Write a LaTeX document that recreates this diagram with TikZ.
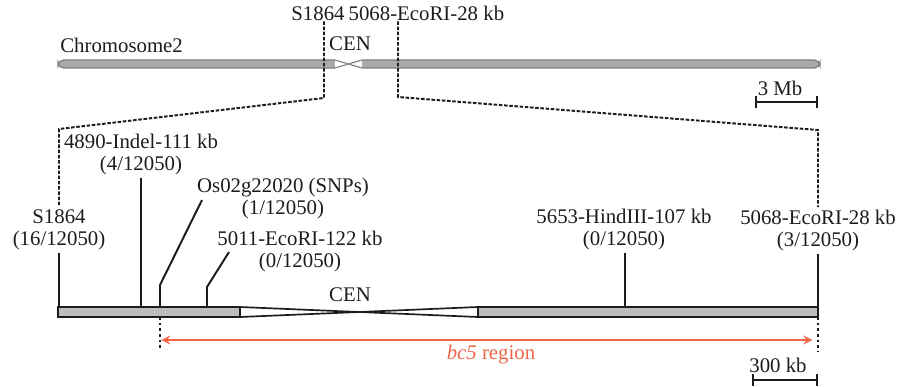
\documentclass[tikz,border=0pt]{standalone}
\usepackage{fontspec}
\setmainfont{Liberation Serif}
\usetikzlibrary{arrows, positioning}
\definecolor{bargray}{RGB}{190,190,190}
\definecolor{chrgray}{RGB}{170,170,170}
\definecolor{regred}{RGB}{242,100,72}
\definecolor{inkgray}{RGB}{28,28,28}

\begin{document}
\begin{tikzpicture}[
    x=0.025cm, y=-0.025cm,
    every node/.style={font=\fontsize{14.8}{15.6}\selectfont, text=inkgray},
    lbl/.style={align=center, inner sep=2pt, anchor=south},
    tick/.style={line width=1.4pt, draw=inkgray},
    bar/.style={draw=inkgray, line width=1.3pt, fill=bargray},
    zoomline/.style={draw=inkgray, line width=1.4pt, dash pattern=on 2.5pt off 1.2pt},
    dotline/.style={draw=inkgray, line width=1.4pt, dash pattern=on 2pt off 2pt},
    scalebar/.style={|-|, line width=1.3pt, draw=inkgray},
    arrow/.style={<->, >=stealth, line width=1.8pt, draw=regred}
]
\useasboundingbox (0,0) rectangle (899,387);

% Chromosome 2
\draw[fill=chrgray, draw=gray, line width=0.9pt, rounded corners=4] (58,60) rectangle (820,68);
\fill[white] (335,59.4) rectangle (362,68.6);
\draw[gray, line width=0.8pt] (335,60) -- (348.5,64) -- (362,60) (335,68) -- (348.5,64) -- (362,68);
\node[anchor=west, inner sep=0pt] (chr) at (60,45) {Chromosome2};
\node (cenT) at (350,44) {CEN};
\node[inner sep=0pt] (mS) at (318,14) {S1864};
\node[inner sep=0pt, anchor=base west, xshift=0.25em] (mE) at (mS.base east) {5068-EcoRI-28 kb};

% Scale bar 3 Mb
\coordinate (mbL) at (755,102);
\coordinate (mbR) at (818,102);
\draw[scalebar] (mbL) -- (mbR);
\node (mbT) at (780,88) {3 Mb};

% Markers on the fine map
\node[lbl] (lS) at (59,253) {S1864\\(16/12050)};
\node[lbl] (lI) at (141,178) {4890-Indel-111 kb\\(4/12050)};
\node[lbl] (lO) at (283,222) {Os02g22020 (SNPs)\\(1/12050)};
\node[lbl] (lR) at (300,275) {5011-EcoRI-122 kb\\(0/12050)};
\node[lbl] (lH) at (624,253) {5653-HindIII-107 kb\\(0/12050)};
\node[lbl] (lE) at (818,254) {5068-EcoRI-28 kb\\(3/12050)};

% Zoom lines
\coordinate (zL) at (324,98);
\coordinate (zLb) at (59,129);
\coordinate (zR) at (398,97);
\coordinate (zRb) at (818,130);
\draw[zoomline] (mS.south -| zL) -- (zL) -- (zLb) -- (lS.north);
\draw[zoomline] (mE.south -| zR) -- (zR) -- (zRb) -- (lE.north);

% Fine map bar
\draw[bar] (58,307) rectangle (240,317);
\draw[bar] (478,307) rectangle (818,317);
\draw[draw=inkgray, line width=1.2pt, fill=white] (240,307) -- (359,312) -- (478,307) -- (478,317) -- (359,312) -- (240,317) -- cycle;
\node (cenB) at (350,295) {CEN};

% Ticks
\coordinate (bS) at (59,307);
\coordinate (bI) at (141,307);
\coordinate (bO) at (160,307);
\coordinate (kO) at (202,200);
\coordinate (bR) at (207,307);
\coordinate (kR) at (229,252);
\coordinate (bH) at (625,307);
\coordinate (bE) at (818,317);
\draw[tick] (bS) -- (bS |- lS.south);
\draw[tick] (bI) -- (bI |- lI.south);
\draw[tick] (bO) -- ++(0,-22) -- (kO);
\draw[tick] (bR) -- ++(0,-20) -- (kR);
\draw[tick] (bH) -- (bH |- lH.south);
\draw[tick] (bE) -- (lE.south);

% bc5 region
\coordinate (rL) at (160,340);
\coordinate (rR) at (818,340);
\draw[dotline] (bO |- 0,317) -- (160,348);
\draw[dotline] (bE) -- (818,352);
\draw[arrow, shorten <=1pt, shorten >=4pt] (rL) -- (rR);
\node[text=regred] (reg) at (491,355) {\textit{bc5} region};

% Scale bar 300 kb
\coordinate (kbL) at (752,380);
\coordinate (kbR) at (818,380);
\draw[scalebar] (kbL) -- (kbR);
\node (kbT) at (778,365) {300 kb};

\end{tikzpicture}
\end{document}
